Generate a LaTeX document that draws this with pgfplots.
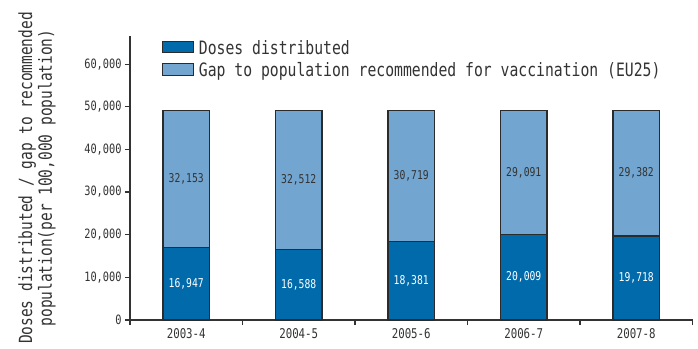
\documentclass[border=0pt]{standalone}
\usepackage{pgfplots}
\pgfplotsset{compat=1.18}
\usepackage{fontspec}
\setmainfont{DejaVu Sans Mono}[FakeStretch=0.8]
\definecolor{darkbar}{HTML}{006AAB}
\definecolor{lightbar}{HTML}{72A5D0}
\definecolor{txt}{HTML}{333333}
\definecolor{edge}{HTML}{2B2B2B}
\pgfplotsset{
  common/.style={
    width=562.5bp, height=284bp, scale only axis,
    xmin=-0.5, xmax=4.5, ymin=0, ymax=66600,
  }
}
\begin{document}
\begin{tikzpicture}
\begin{axis}[
  common,
  ybar stacked, bar width=0.413,
  axis x line*=bottom, axis y line*=left,
  axis line style={-, draw=txt, line width=1.2bp},
  xtick={-0.5,0.5,1.5,2.5,3.5,4.5},
  x tick label as interval,
  xticklabels={2003-4,2004-5,2005-6,2006-7,2007-8},
  ytick={0,10000,20000,30000,40000,50000,60000},
  scaled y ticks=false,
  /pgf/number format/1000 sep={,},
  /pgf/number format/assume math mode=true,
  tick align=outside, tick pos=left,
  major tick length=5bp,
  tick style={draw=txt, line width=1.2bp},
  yticklabel style={font=\fontsize{12.9}{14}\selectfont, text=txt},
  xticklabel style={font=\fontsize{13.5}{15}\selectfont, text=txt},
  ylabel={Doses distributed / gap to recommended\\population(per 100,000 population)},
  ylabel style={at={(axis description cs:-0.1316,0.5)}, anchor=south, inner sep=0pt,
    align=center, font=\fontsize{18.2}{20}\selectfont, text=txt},
  legend style={at={(axis description cs:0,1)}, anchor=north west, xshift=32bp, yshift=-4bp,
    draw=none, fill=none, inner sep=0pt, row sep=4.5bp,
    font=\fontsize{18.5}{20}\selectfont, text=txt,
    nodes={inner xsep=4.5bp, inner ysep=0pt, text height=14bp, text depth=4bp}},
  legend cell align=left,
]
\coordinate (O) at (rel axis cs:0,0);
\addplot[fill=darkbar, draw=edge, line width=1.2bp,
  legend image code/.code={\draw[fill=darkbar, draw=edge, line width=1.2bp] (0bp,-3.5bp) rectangle (31bp,8bp);}]
  coordinates {(0,16947) (1,16588) (2,18381) (3,20009) (4,19718)};
\addlegendentry{Doses distributed}
\addplot[fill=lightbar, draw=edge, line width=1.2bp,
  legend image code/.code={\draw[fill=lightbar, draw=edge, line width=1.2bp] (0bp,-3.5bp) rectangle (31bp,8bp);}]
  coordinates {(0,32153) (1,32512) (2,30719) (3,29091) (4,29382)};
\addlegendentry{Gap to population recommended for vaccination (EU25)}
\end{axis}
\begin{axis}[
  common, hide axis,
  /pgf/number format/1000 sep={,},
  /pgf/number format/assume math mode=true,
]
\addplot[only marks, mark=*, mark size=0pt, mark options={draw=none, fill=none},
  point meta=explicit, nodes near coords,
  every node near coord/.append style={anchor=center, text=white, font=\fontsize{12.2}{13}\selectfont}]
  coordinates {(0,8473.5) [16947] (1,8294) [16588] (2,9190.5) [18381] (3,10004.5) [20009] (4,9859) [19718]};
\addplot[only marks, mark=*, mark size=0pt, mark options={draw=none, fill=none},
  point meta=explicit, nodes near coords,
  every node near coord/.append style={anchor=center, text=txt, font=\fontsize{12.2}{13}\selectfont}]
  coordinates {(0,33023.5) [32153] (1,32844) [32512] (2,33740.5) [30719] (3,34554.5) [29091] (4,34409) [29382]};
\end{axis}
\pgfresetboundingbox
\path[use as bounding box] ([shift={(-130bp,-29bp)}]O) rectangle ++(698bp,349bp);
\end{tikzpicture}
\end{document}
